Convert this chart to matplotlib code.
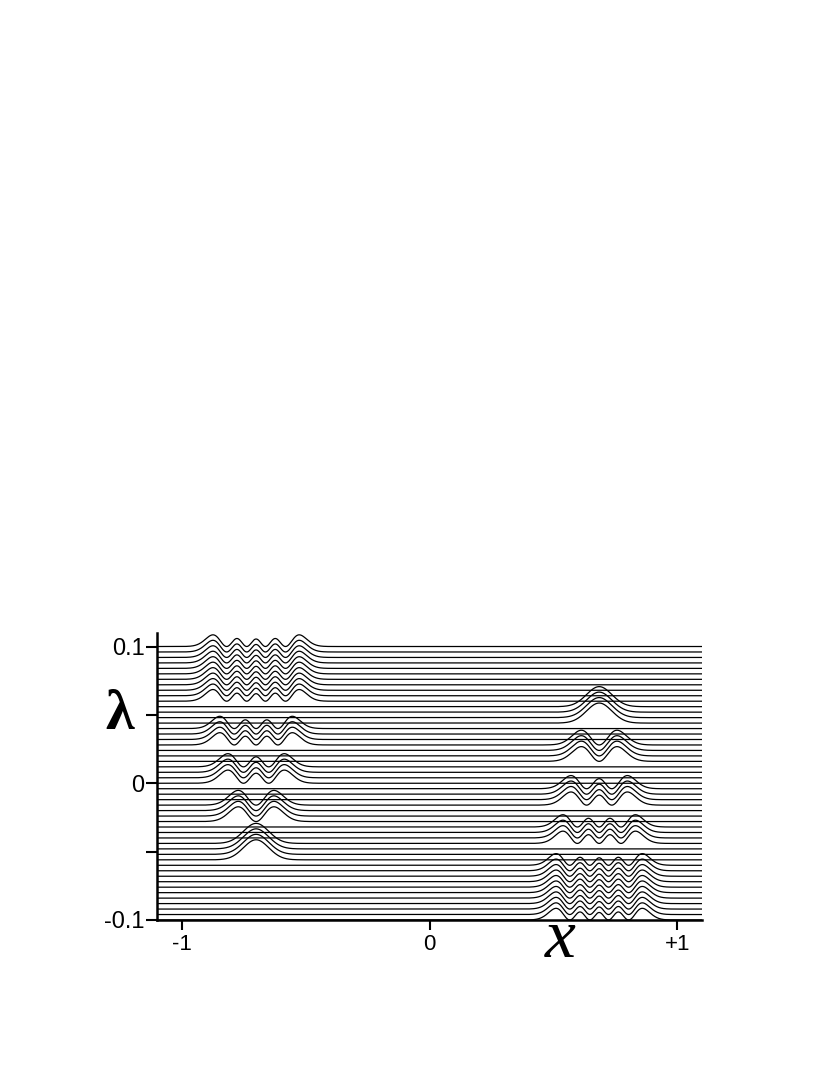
import numpy as np
import matplotlib
matplotlib.use("Agg")
import matplotlib.pyplot as plt
from numpy.polynomial.hermite import hermval
from math import factorial, pi, sqrt

# ---------------- data ----------------
LAMBDA_MIN, LAMBDA_MAX, N_LINES = -0.1, 0.1, 51          # 51 parameter levels (step 0.004)

# localized states in the left well (x ~ -0.70): state index and the range of lines showing it
LEFT_CENTER = -0.70
LEFT_STATE = [0, 1, 2, 3, 4]
LEFT_FIRST = [11, 18, 25, 32, 40]
LEFT_LAST = [14, 21, 28, 35, 50]

# localized states in the right well (x ~ +0.685)
RIGHT_CENTER = 0.685
RIGHT_STATE = [0, 1, 2, 3, 4]
RIGHT_FIRST = [36, 29, 21, 14, 0]
RIGHT_LAST = [39, 32, 24, 17, 10]

WIDTH = 0.072       # oscillator length in x units
SCALE = 0.026       # vertical scale of the densities (lambda units)

YTICKS = [-0.1, -0.05, 0.0, 0.05, 0.1]
YTICKLABELS = ["-0.1", "", "0", "", "0.1"]
XTICKS = [-1, 0, 1]
XTICKLABELS = ["-1", "0", "+1"]


def density(n, xi):
    c = [0] * n + [1]
    norm = 1.0 / (sqrt(2 ** n * factorial(n)) * pi ** 0.25)
    return (norm * hermval(xi, c)) ** 2 * np.exp(-xi ** 2)


lam = np.linspace(LAMBDA_MIN, LAMBDA_MAX, N_LINES)
x = np.linspace(-1.1, 1.1, 2000)

fig = plt.figure(figsize=(8.3, 10.75), dpi=100)
ax = fig.add_axes([157 / 830, 1 - 920 / 1075, (702 - 157) / 830, (920 - 632.7) / 1075])

for k, l0 in enumerate(lam):
    y = np.full_like(x, l0)
    for s, a, b in zip(LEFT_STATE, LEFT_FIRST, LEFT_LAST):
        if a <= k <= b:
            y = y + SCALE * density(s, (x - LEFT_CENTER) / WIDTH)
    for s, a, b in zip(RIGHT_STATE, RIGHT_FIRST, RIGHT_LAST):
        if a <= k <= b:
            y = y + SCALE * density(s, (x - RIGHT_CENTER) / WIDTH)
    ax.plot(x, y, color="black", lw=0.9, solid_capstyle="butt")

ax.set_xlim(-1.1, 1.1)
ax.set_ylim(-0.1, 0.1101)
for side in ("top", "right"):
    ax.spines[side].set_visible(False)
for side in ("left", "bottom"):
    ax.spines[side].set_linewidth(1.8)

ax.set_yticks(YTICKS)
ax.set_yticklabels(YTICKLABELS, family="Liberation Sans", fontsize=17)
ax.set_xticks(XTICKS)
ax.set_xticklabels(XTICKLABELS, family="Liberation Sans", fontsize=16)
ax.tick_params(axis="y", direction="out", length=8, width=1.5, pad=1.0)
ax.tick_params(axis="x", direction="out", length=7, width=1.5, pad=3)

fig.text(120 / 830, 1 - 715 / 1075, "λ", family="Liberation Serif", fontsize=42,
         fontweight="bold", ha="center", va="center")
fig.text(560 / 830, 1 - 940 / 1075, "x", family="Liberation Serif", style="italic",
         fontsize=50, ha="center", va="center")

fig.savefig("out.png", dpi=100)
